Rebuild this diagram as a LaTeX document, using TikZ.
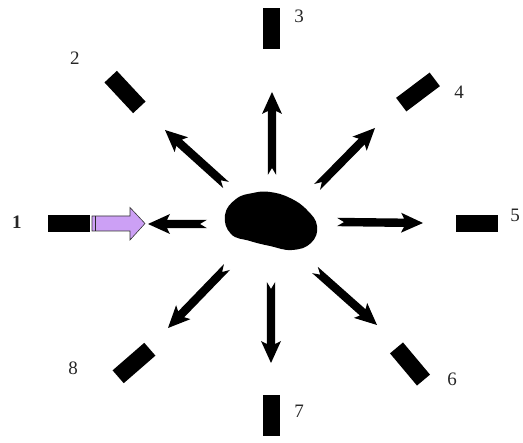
\documentclass[tikz,border=0pt]{standalone}
\usepackage{fontspec}
\setmainfont{Liberation Serif}
\usetikzlibrary{calc}
\definecolor{lav}{RGB}{204,160,245}
\tikzset{
  bar/.style={fill=black, draw=none, minimum width=42pt, minimum height=17pt, inner sep=0pt},
  num/.style={font=\fontsize{19}{19}\selectfont, text=black!85, inner sep=0pt},
}
\begin{document}
\begin{tikzpicture}[x=1pt,y=-1pt]
\useasboundingbox (0,0) rectangle (523,443);
% central blob
\fill plot[smooth cycle, tension=0.75] coordinates {
 (225,215) (236,199) (253,193) (270,192) (290,198) (307,210) (317,226)
 (311,243) (292,250) (270,246) (250,241) (231,234)};
\node[inner sep=0pt, minimum width=90pt, minimum height=56pt] (blob) at (271,221) {};
% receptors
\node[bar] (r1) at (68.5,224) {};
\node[bar, rotate=-47] (r2) at (125,92) {};
\node[bar, minimum width=17pt, minimum height=41pt] (r3) at (271.5,29) {};
\node[bar, rotate=37] (r4) at (418,92) {};
\node[bar] (r5) at (477,224) {};
\node[bar, rotate=-50] (r6) at (410,364) {};
\node[bar, minimum width=17pt, minimum height=41pt] (r7) at (271.5,416) {};
\node[bar, rotate=41] (r8) at (134,363) {};
% labels
\node[num, font=\fontsize{19}{19}\selectfont\bfseries] (l1) at (17,222) {1};
\node[num] (l2) at (75,58) {2};
\node[num] (l3) at (299,16) {3};
\node[num] (l4) at (459,92) {4};
\node[num] (l5) at (515,215) {5};
\node[num] (l6) at (452,379) {6};
\node[num] (l7) at (299,411) {7};
\node[num] (l8) at (73,368) {8};
% arrow end points
\coordinate (t1) at (207,224); \coordinate (h1) at (148,224);
\coordinate (t2) at (226,185); \coordinate (h2) at (165,130);
\coordinate (t3) at (272,175); \coordinate (h3) at (272,92);
\coordinate (t4) at (317,187); \coordinate (h4) at (375,128);
\coordinate (t5) at (337,222); \coordinate (h5) at (423,223);
\coordinate (t6) at (315,270); \coordinate (h6) at (377,325);
\coordinate (t7) at (271,282); \coordinate (h7) at (271,363);
\coordinate (t8) at (227,267); \coordinate (h8) at (168,328);
\foreach \i in {1,...,8} {
  \coordinate (b) at ($(h\i)!19pt!(t\i)$);
  \coordinate (c) at ($(h\i)!22pt!(t\i)$);
  \fill ($(t\i)!4.2pt!90:(h\i)$) -- ($(b)!4.2pt!-90:(t\i)$) -- ($(c)!10pt!-90:(t\i)$)
     -- (h\i) -- ($(c)!10pt!90:(t\i)$) -- ($(b)!4.2pt!90:(t\i)$)
     -- ($(t\i)!4.2pt!-90:(h\i)$) -- ($(t\i)!7pt!(h\i)$) -- cycle;
}
% purple arrow
\draw[fill=lav, draw=black!80, line width=0.6pt]
  (92,216) -- (130,216) -- (130,207.5) -- (145,223.5) -- (130,240) -- (130,231) -- (92,231) -- cycle;
\draw[line width=1.6pt, black!85] (95.5,216) -- (95.5,231);
\end{tikzpicture}
\end{document}
